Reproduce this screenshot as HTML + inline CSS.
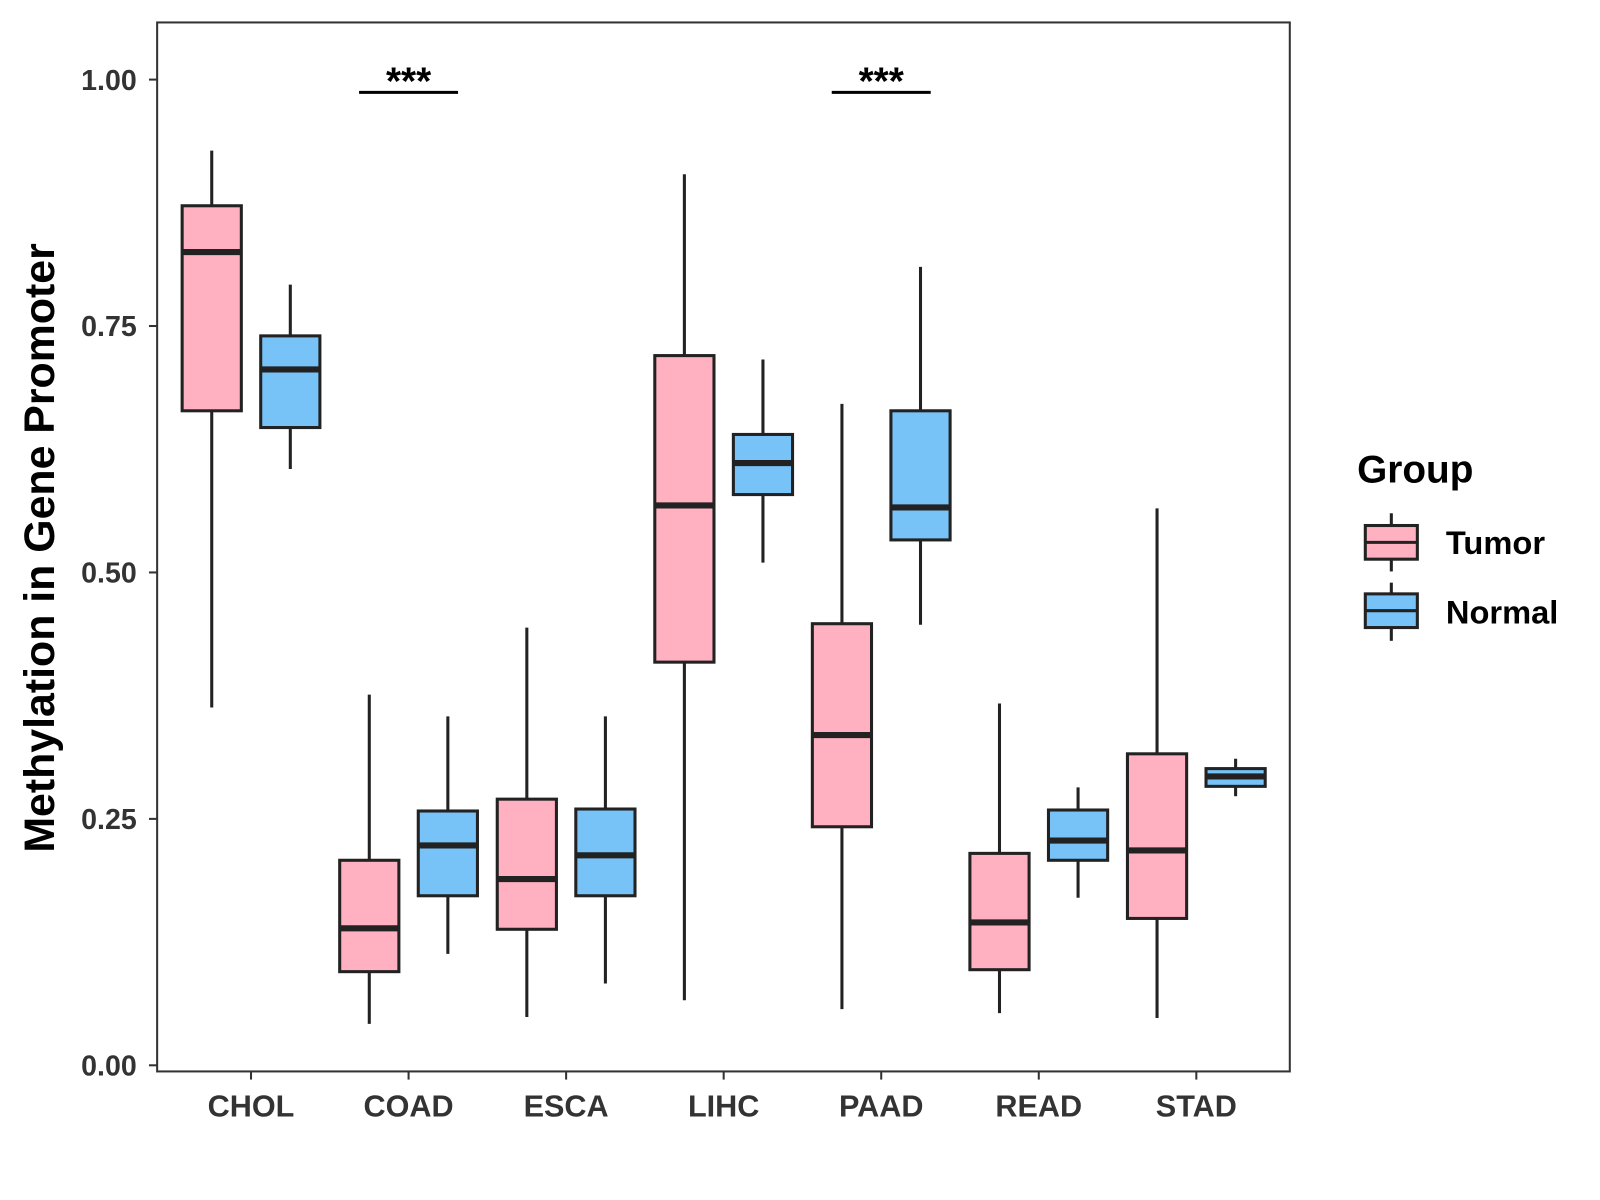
<!DOCTYPE html>
<html><head><meta charset="utf-8"><style>
html,body{margin:0;padding:0;background:#fff;}
svg{display:block;font-family:"Liberation Sans",Arial,sans-serif;}
</style></head><body>
<svg id="chart" width="1600" height="1200" viewBox="0 0 1568 1176" xmlns="http://www.w3.org/2000/svg">
<rect x="0" y="0" width="1568" height="1176" fill="#fff"/>
<g id="marks"></g>
<rect x="154" y="22" width="1110" height="1028" fill="none" stroke="#333" stroke-width="2"/>
<g id="axes"></g>
<text transform="translate(53,537) rotate(-90)" text-anchor="middle" font-size="42" font-weight="bold" fill="#000">Methylation in Gene Promoter</text>
<g>
<text x="1330" y="473" font-size="38" font-weight="bold" fill="#000">Group</text>
<g>
<line x1="1363.5" y1="503" x2="1363.5" y2="560" stroke="#222" stroke-width="3"/>
<rect x="1338" y="515" width="51" height="33" fill="#FFB0C1" stroke="#222" stroke-width="3"/>
<line x1="1338" y1="531.5" x2="1389" y2="531.5" stroke="#222" stroke-width="3"/>
<text x="1417" y="543" font-size="32" font-weight="bold" fill="#000">Tumor</text>
</g>
<g>
<line x1="1363.5" y1="571" x2="1363.5" y2="628" stroke="#222" stroke-width="3"/>
<rect x="1338" y="582" width="51" height="33" fill="#77C3F8" stroke="#222" stroke-width="3"/>
<line x1="1338" y1="598.5" x2="1389" y2="598.5" stroke="#222" stroke-width="3"/>
<text x="1417" y="611" font-size="32" font-weight="bold" fill="#000">Normal</text>
</g>
</g>
</svg>
<script>
const categories = ["CHOL","COAD","ESCA","LIHC","PAAD","READ","STAD"];
// [lower whisker, Q1, median, Q3, upper whisker]
const tumorStats = [
 [0.363,0.664,0.825,0.872,0.928],
 [0.042,0.095,0.139,0.208,0.376],
 [0.049,0.138,0.189,0.270,0.444],
 [0.066,0.409,0.568,0.720,0.904],
 [0.057,0.242,0.335,0.448,0.671],
 [0.053,0.097,0.145,0.215,0.367],
 [0.048,0.149,0.218,0.316,0.565]
];
const normalStats = [
 [0.605,0.647,0.706,0.740,0.792],
 [0.113,0.172,0.223,0.258,0.354],
 [0.083,0.172,0.213,0.260,0.354],
 [0.510,0.579,0.611,0.640,0.716],
 [0.447,0.533,0.566,0.664,0.810],
 [0.170,0.208,0.228,0.259,0.282],
 [0.273,0.283,0.293,0.301,0.311]
];
const yTicks = [0,0.25,0.5,0.75,1.0];
const yTickLabels = ["0.00","0.25","0.50","0.75","1.00"];
const sigCategories = ["COAD","PAAD"];
const sigLabels = ["***","***"];
const sigY = 0.987;

const NS="http://www.w3.org/2000/svg";
const y = v => 1044 - v*966;
const x = i => 246 + i*154.4;
function mk(tag, attrs, parent){const e=document.createElementNS(NS,tag);for(const k in attrs)e.setAttribute(k,attrs[k]);parent.appendChild(e);return e;}
const marks=document.getElementById('marks'), axes=document.getElementById('axes');
const bw=58;
function box(cx, s, fill, name){
  const g=mk('g',{},marks);
  
  
  mk('line',{x1:cx,x2:cx,y1:y(s[4]),y2:y(s[0]),stroke:'#222','stroke-width':3},g);
  mk('rect',{x:cx-bw/2,y:y(s[3]),width:bw,height:y(s[1])-y(s[3]),fill:fill,stroke:'#222','stroke-width':3},g);
  mk('line',{x1:cx-bw/2,x2:cx+bw/2,y1:y(s[2]),y2:y(s[2]),stroke:'#222','stroke-width':6},g);
}
categories.forEach((c,i)=>{
  box(x(i)-38.5, tumorStats[i], '#FFB0C1', 'box-tumor-'+c.toLowerCase());
  box(x(i)+38.5, normalStats[i], '#77C3F8', 'box-normal-'+c.toLowerCase());
  mk('line',{x1:x(i),x2:x(i),y1:1050,y2:1058,stroke:'#333','stroke-width':2},axes);
  const t=mk('text',{x:x(i),y:1094,'text-anchor':'middle','font-size':30,'font-weight':'bold',fill:'#333'},axes);
  t.textContent=c;
  
  
});
yTicks.forEach((v,i)=>{
  mk('line',{x1:146,x2:154,y1:y(v),y2:y(v),stroke:'#333','stroke-width':2},axes);
  const t=mk('text',{x:134,y:y(v)+10,'text-anchor':'end','font-size':28,'font-weight':'bold',fill:'#333'},axes);
  t.textContent=yTickLabels[i];
  
  
});
sigCategories.forEach((c,k)=>{
  const i=categories.indexOf(c);
  const g=mk('g',{},marks);
  
  
  mk('line',{x1:x(i)-48.5,x2:x(i)+48.5,y1:y(sigY),y2:y(sigY),stroke:'#000','stroke-width':3},g);
  const t=mk('text',{x:x(i),y:y(sigY)+2,'text-anchor':'middle','font-size':38,'font-weight':'bold',fill:'#000'},g);
  t.textContent=sigLabels[k];
});
</script>
</body></html>
